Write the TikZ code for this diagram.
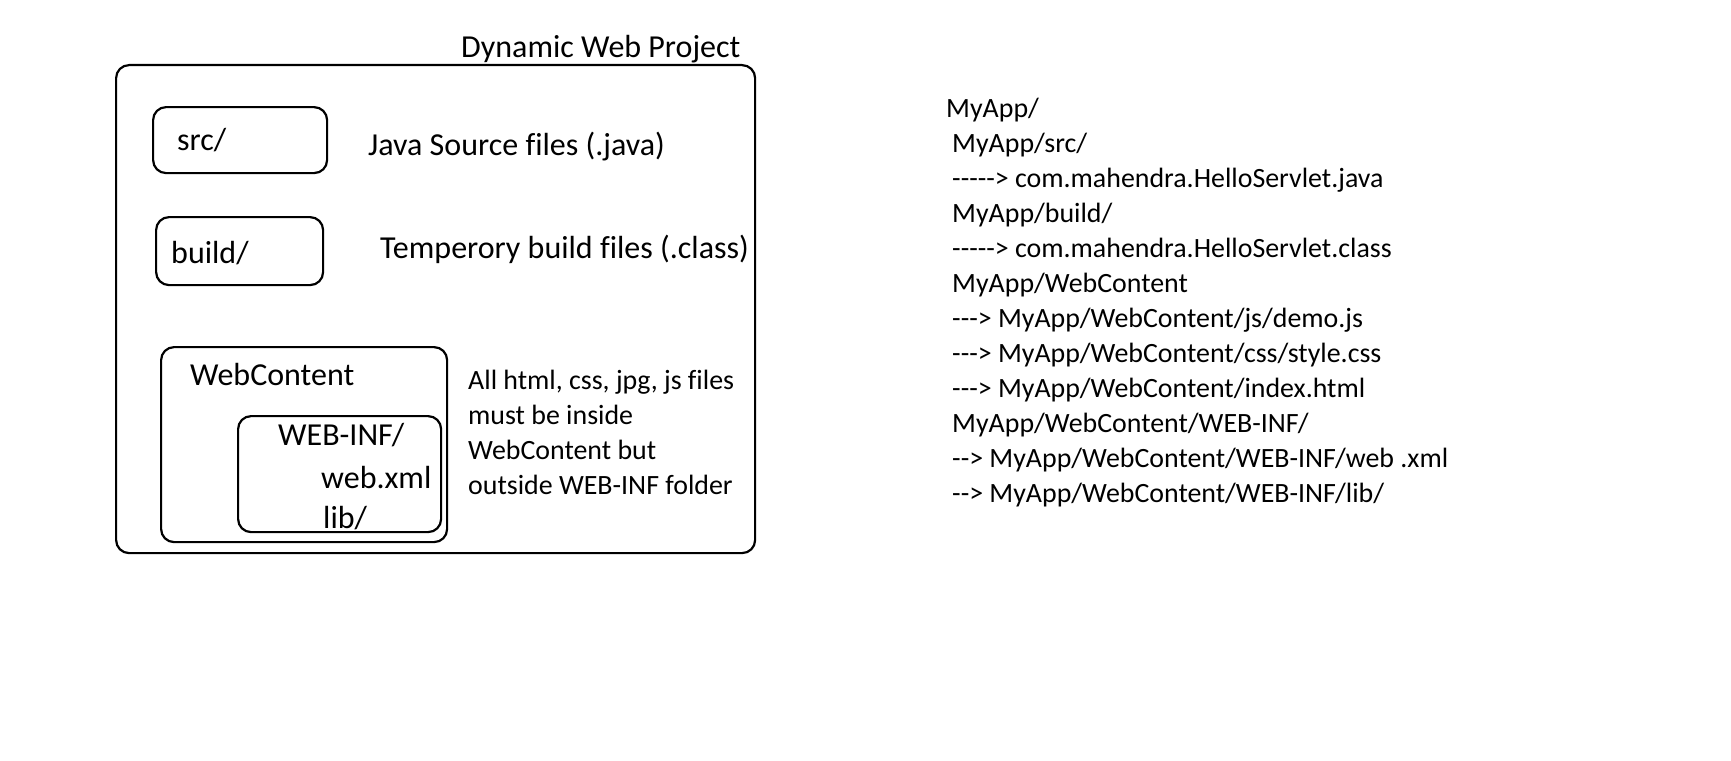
\documentclass[tikz,border=0pt]{standalone}
\usepackage{fontspec}
\setmainfont{Carlito}[Ligatures={TeXOff,CommonOff}]
\usepackage{tikz}
\usetikzlibrary{positioning}
\tikzset{folder/.style={draw,line width=2.2pt,rounded corners=13pt,anchor=north west,inner sep=0pt},
lbl/.style={anchor=base west,inner sep=0pt,font=\fontsize{32}{35}\selectfont},
path/.style={anchor=base west,inner sep=0pt,font=\fontsize{27.9}{35}\selectfont}}
\begin{document}
\begin{tikzpicture}[x=1pt,y=-1pt]
\useasboundingbox (0,0) rectangle (1731,760);
% project boxes
\node[folder,minimum width=639,minimum height=488](proj) at (115,64){};
\node[lbl](projname) at (461,57){Dynamic Web Project};
\node[folder,minimum width=174,minimum height=66](srcbox) at (152,106){};
\node[lbl](src) at (177,150){src/};
\node[lbl](srcnote) at (368,155){Java Source files (.java)};
\node[folder,minimum width=167,minimum height=68](buildbox) at (155,216){};
\node[lbl](build) at (171,263){build/};
\node[lbl](buildnote) at (380,258){Temperory build files (.class)};
\node[folder,minimum width=286,minimum height=195](wcbox) at (160,346){};
\node[lbl](wc) at (190,385){WebContent};
\node[folder,minimum width=203,minimum height=116](wibox) at (237,415){};
\node[lbl](wi) at (278,445){WEB-INF/};
\node[lbl](webxml) at (321,488){web.xml};
\node[lbl](lib) at (323,528){lib/};
\node[path](n1) at (468,389){All html, css, jpg, js files};
\node[path](n2) at (468,424){must be inside};
\node[path](n3) at (468,459){WebContent but};
\node[path](n4) at (468,494){outside WEB-INF folder};
% layout on disk
\node[path](t1) at (946,117){MyApp/};
\node[path](t2) at (952,152){MyApp/src/};
\node[path](t3) at (952,187){-----> com.mahendra.HelloServlet.java};
\node[path](t4) at (952,222){MyApp/build/};
\node[path](t5) at (952,257){-----> com.mahendra.HelloServlet.class};
\node[path](t6) at (952,292){MyApp/WebContent};
\node[path](t7) at (952,327){---> MyApp/WebContent/js/demo.js};
\node[path](t8) at (952,362){---> MyApp/WebContent/css/style.css};
\node[path](t9) at (952,397){---> MyApp/WebContent/index.html};
\node[path](t10) at (952,432){MyApp/WebContent/WEB-INF/};
\node[path](t11) at (952,467){--> MyApp/WebContent/WEB-INF/web .xml};
\node[path](t12) at (952,502){--> MyApp/WebContent/WEB-INF/lib/};
\end{tikzpicture}
\end{document}
